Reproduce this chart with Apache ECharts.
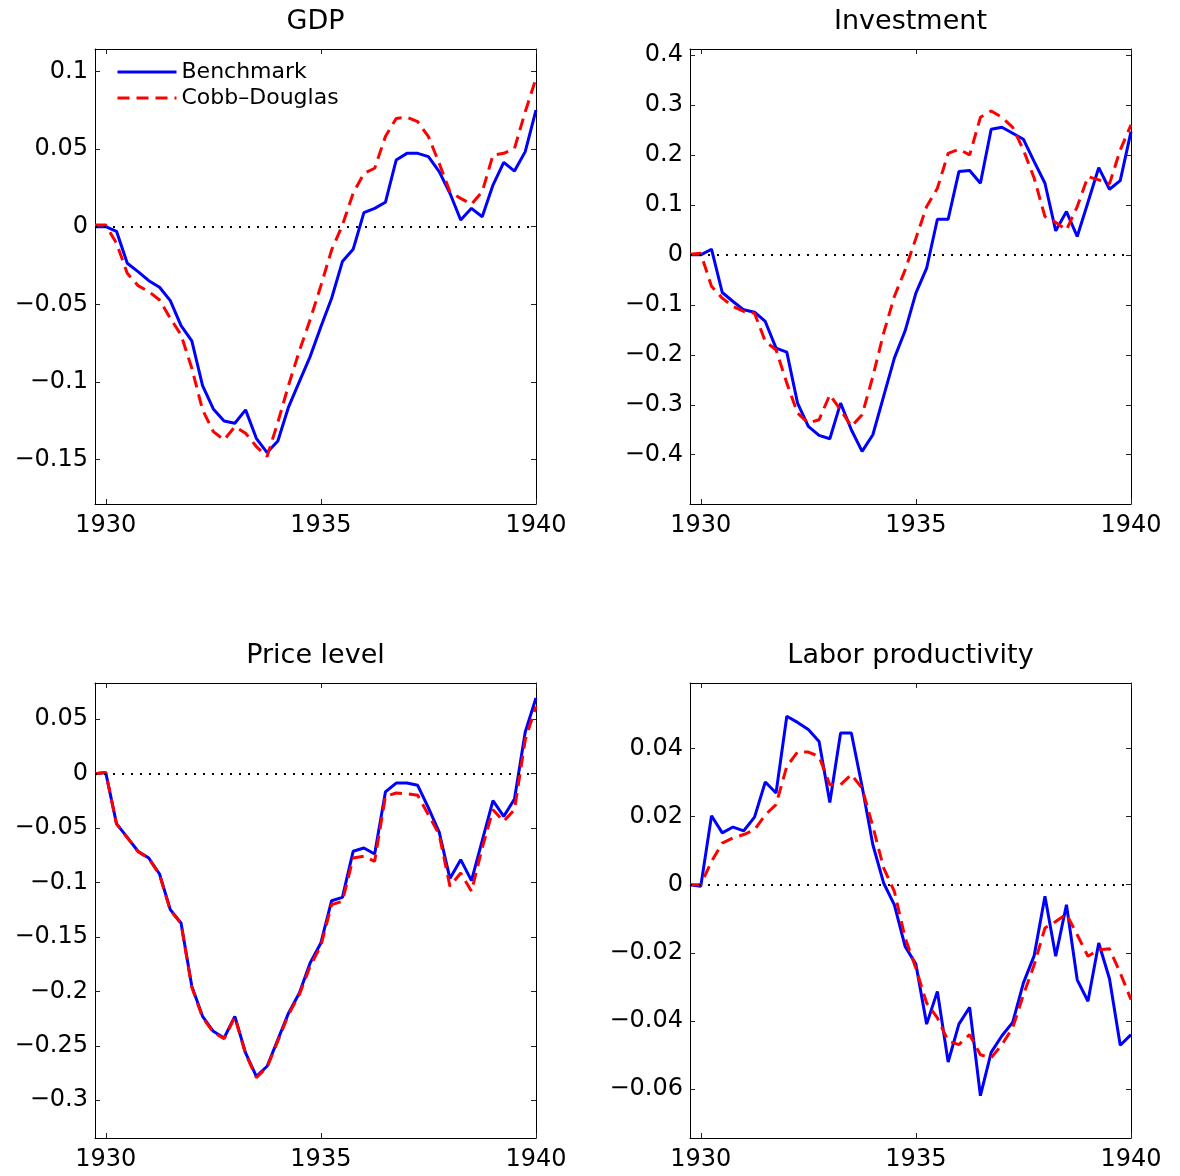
<!DOCTYPE html>
<html>
<head>
<meta charset="utf-8">
<script src="https://cdn.jsdelivr.net/npm/echarts@6/dist/echarts.min.js"></script>
<style>
html,body{margin:0;padding:0;background:#fff;}
#c{width:1180px;height:1176px;}
</style>
</head>
<body>
<div id="c"></div>
<script>
// ---- data (quarterly, 1929Q4 .. 1940Q1) ----
const dates = [1929.75, 1930, 1930.25, 1930.5, 1930.75, 1931, 1931.25, 1931.5, 1931.75,
  1932, 1932.25, 1932.5, 1932.75, 1933, 1933.25, 1933.5, 1933.75, 1934, 1934.25, 1934.5,
  1934.75, 1935, 1935.25, 1935.5, 1935.75, 1936, 1936.25, 1936.5, 1936.75, 1937, 1937.25,
  1937.5, 1937.75, 1938, 1938.25, 1938.5, 1938.75, 1939, 1939.25, 1939.5, 1939.75, 1940];

const seriesNames = ['Benchmark', 'Cobb\u2013Douglas'];
const panelTitles = ['GDP', 'Investment', 'Price level', 'Labor productivity'];

const gdpBenchmark = [0, 0, -0.003, -0.0236, -0.029, -0.0348, -0.039, -0.0476, -0.0637, -0.0736,
  -0.1024, -0.1174, -0.1251, -0.1266, -0.118, -0.1363, -0.1455, -0.138, -0.116, -0.0998,
  -0.0837, -0.0644, -0.0461, -0.0225, -0.0146, 0.009, 0.0118, 0.0157, 0.0429, 0.0472,
  0.0472, 0.0451, 0.0354, 0.0215, 0.0043, 0.0118, 0.0064, 0.0268, 0.0414, 0.0358, 0.0483, 0.0751];
const gdpCobbDouglas = [0.001, 0.001, -0.0107, -0.030, -0.038, -0.0418, -0.0472, -0.059, -0.0697, -0.0912,
  -0.118, -0.132, -0.1373, -0.1288, -0.133, -0.1416, -0.148, -0.126, -0.102, -0.080,
  -0.060, -0.038, -0.015, 0.001, 0.0215, 0.0343, 0.0376, 0.058, 0.0697, 0.0704,
  0.0676, 0.058, 0.0408, 0.0225, 0.0182, 0.0144, 0.0225, 0.0461, 0.0472, 0.0504, 0.074, 0.0955];

const invBenchmark = [0, 0, 0.0113, -0.0753, -0.0933, -0.11, -0.1147, -0.1333, -0.1867, -0.1947,
  -0.2967, -0.3433, -0.3613, -0.368, -0.2967, -0.35, -0.3933, -0.36, -0.2833, -0.2067,
  -0.152, -0.0767, -0.0267, 0.0713, 0.0713, 0.1667, 0.1687, 0.1433, 0.2513, 0.2553,
  0.2433, 0.2313, 0.1867, 0.1433, 0.048, 0.0867, 0.0367, 0.1053, 0.1747, 0.1313, 0.1487, 0.2467];
const invCobbDouglas = [0.0013, 0.003, -0.063, -0.0867, -0.1033, -0.1133, -0.1167, -0.1733, -0.19, -0.2567,
  -0.3167, -0.3367, -0.33, -0.28, -0.31, -0.3433, -0.32, -0.2433, -0.1567, -0.0833,
  -0.03, 0.033, 0.0967, 0.1333, 0.2033, 0.2113, 0.2, 0.2753, 0.288, 0.2753,
  0.2553, 0.21, 0.1533, 0.0767, 0.065, 0.05, 0.0967, 0.1567, 0.15, 0.142, 0.21, 0.26];

const priceBenchmark = [0, 0.001, -0.0459, -0.0585, -0.0713, -0.0775, -0.0922, -0.1249, -0.1372, -0.1953,
  -0.2229, -0.2367, -0.2428, -0.2229, -0.2566, -0.278, -0.2688, -0.2443, -0.2198, -0.2015,
  -0.1739, -0.1555, -0.1167, -0.1136, -0.0713, -0.0683, -0.0738, -0.0168, -0.0086, -0.0086,
  -0.0107, -0.0315, -0.0536, -0.0964, -0.079, -0.0983, -0.0615, -0.0248, -0.0392, -0.0233, 0.0383, 0.0695];
const priceCobbDouglas = [0, 0.001, -0.0462, -0.0588, -0.0716, -0.0779, -0.0928, -0.1255, -0.1378, -0.1962,
  -0.2238, -0.2375, -0.2436, -0.2236, -0.2575, -0.2792, -0.2698, -0.2455, -0.2212, -0.203,
  -0.177, -0.158, -0.1203, -0.1173, -0.0775, -0.0759, -0.0805, -0.0208, -0.0178, -0.0184,
  -0.0199, -0.0377, -0.056, -0.1035, -0.0912, -0.1081, -0.0683, -0.0331, -0.0438, -0.0331, 0.0312, 0.0618];

const lpBenchmark = [0, -0.0005, 0.0202, 0.0152, 0.0169, 0.0158, 0.0198, 0.0301, 0.0269, 0.0494,
  0.0476, 0.0455, 0.042, 0.0241, 0.0445, 0.0445, 0.0288, 0.0117, 0.0005, -0.0059,
  -0.0181, -0.0233, -0.0409, -0.0313, -0.052, -0.0409, -0.036, -0.0619, -0.0492, -0.0443,
  -0.0404, -0.0288, -0.0208, -0.0034, -0.021, -0.0059, -0.0279, -0.0342, -0.0171, -0.0276, -0.0471, -0.044];
const lpCobbDouglas = [0, 0, 0.0068, 0.0122, 0.0137, 0.0147, 0.0161, 0.0205, 0.0235, 0.0347,
  0.0389, 0.0389, 0.0376, 0.0293, 0.0293, 0.0323, 0.0283, 0.0171, 0.0049, -0.002,
  -0.0156, -0.0245, -0.0347, -0.0391, -0.0459, -0.0469, -0.044, -0.0499, -0.0508, -0.0469,
  -0.042, -0.0323, -0.0235, -0.0127, -0.0108, -0.0086, -0.0147, -0.021, -0.0191, -0.0188, -0.0259, -0.0337];

const xTicks = [1930, 1935, 1940];
const gdpTicks = [-0.15, -0.1, -0.05, 0, 0.05, 0.1];
const invTicks = [-0.4, -0.3, -0.2, -0.1, 0, 0.1, 0.2, 0.3, 0.4];
const priceTicks = [-0.3, -0.25, -0.2, -0.15, -0.1, -0.05, 0, 0.05];
const lpTicks = [-0.06, -0.04, -0.02, 0, 0.02, 0.04];

// ---- layout / style ----
const FONT = 'DejaVu Sans';
const panels = [
  { bench: gdpBenchmark,   cd: gdpCobbDouglas,   ticks: gdpTicks,   yMin: -0.1786, yMax: 0.1144, left: 95,  top: 49 },
  { bench: invBenchmark,   cd: invCobbDouglas,   ticks: invTicks,   yMin: -0.4986, yMax: 0.412,  left: 690, top: 49 },
  { bench: priceBenchmark, cd: priceCobbDouglas, ticks: priceTicks, yMin: -0.3347, yMax: 0.0833, left: 95,  top: 683 },
  { bench: lpBenchmark,    cd: lpCobbDouglas,    ticks: lpTicks,    yMin: -0.0743, yMax: 0.05915, left: 690, top: 683 }
];
const GW = 441, GH = 455;
const xMin = dates[0], xMax = dates[dates.length - 1];

function fmt(v) {
  const s = String(Math.round(v * 1e6) / 1e6);
  return s.replace('-', '\u2212');
}

const grids = [], xAxes = [], yAxes = [], series = [], titles = [];
const axisLine = { show: true, onZero: false, lineStyle: { color: '#000', width: 1 } };

panels.forEach((p, k) => {
  grids.push({ left: p.left, top: p.top, width: GW, height: GH, containLabel: false, outerBoundsMode: 'none' });
  const tickStyle = { show: true, inside: true, length: 5, lineStyle: { color: '#222', width: 1 } };
  xAxes.push({
    type: 'value', gridIndex: k, min: xMin, max: xMax, position: 'bottom',
    axisLine: axisLine,
    axisTick: Object.assign({ customValues: xTicks }, tickStyle),
    axisLabel: { show: true, customValues: xTicks, fontSize: 24, fontFamily: FONT, color: '#000', margin: 10,
                 formatter: v => String(Math.round(v)) },
    splitLine: { show: false }
  });
  xAxes.push({
    type: 'value', gridIndex: k, min: xMin, max: xMax, position: 'top',
    axisLine: axisLine,
    axisTick: Object.assign({ customValues: xTicks }, tickStyle),
    axisLabel: { show: false },
    splitLine: { show: false }
  });
  yAxes.push({
    type: 'value', gridIndex: k, min: p.yMin, max: p.yMax, position: 'left',
    axisLine: axisLine,
    axisTick: Object.assign({ customValues: p.ticks }, tickStyle),
    axisLabel: { show: true, customValues: p.ticks, fontSize: 24, fontFamily: FONT, color: '#000', margin: 7,
                 formatter: fmt },
    splitLine: { show: false }
  });
  yAxes.push({
    type: 'value', gridIndex: k, min: p.yMin, max: p.yMax, position: 'right',
    axisLine: axisLine,
    axisTick: Object.assign({ customValues: p.ticks }, tickStyle),
    axisLabel: { show: false },
    splitLine: { show: false }
  });

  const xi = 2 * k, yi = 2 * k;
  series.push({
    type: 'line', xAxisIndex: xi, yAxisIndex: yi, data: [], z: 1, silent: true,
    markLine: {
      silent: true, symbol: ['none', 'none'], label: { show: false }, animation: false,
      lineStyle: { color: '#000', type: [2, 7], width: 2 },
      emphasis: { disabled: true },
      data: [{ yAxis: 0 }]
    }
  });
  series.push({
    type: 'line', name: seriesNames[0], xAxisIndex: xi, yAxisIndex: yi, z: 3,
    data: dates.map((d, i) => [d, p.bench[i]]),
    symbol: 'none', showSymbol: false,
    lineStyle: { color: '#0000ff', width: 3 }, itemStyle: { color: '#0000ff' }
  });
  series.push({
    type: 'line', name: seriesNames[1], xAxisIndex: xi, yAxisIndex: yi, z: 4,
    data: dates.map((d, i) => [d, p.cd[i]]),
    symbol: 'none', showSymbol: false,
    lineStyle: { color: '#ff0000', width: 3, type: [12, 7] }, itemStyle: { color: '#ff0000' }
  });

  titles.push({
    text: panelTitles[k], left: p.left + GW / 2, top: p.top - 41, textAlign: 'center',
    padding: 0,
    textStyle: { fontSize: 27, fontWeight: 'normal', fontFamily: FONT, color: '#000' }
  });
});

const chart = echarts.init(document.getElementById('c'), null, { renderer: 'canvas' });
chart.setOption({
  animation: false,
  backgroundColor: '#fff',
  title: titles,
  grid: grids,
  xAxis: xAxes,
  yAxis: yAxes,
  legend: {
    show: true, data: seriesNames, orient: 'vertical', left: 116, top: 59,
    itemWidth: 59, itemHeight: 14, itemGap: 0, padding: 0, selectedMode: false,
    itemStyle: { opacity: 0 },
    lineStyle: { width: 3 },
    textStyle: { fontSize: 22, fontFamily: FONT, color: '#000', lineHeight: 26 }
  },
  series: series
});
</script>
</body>
</html>
